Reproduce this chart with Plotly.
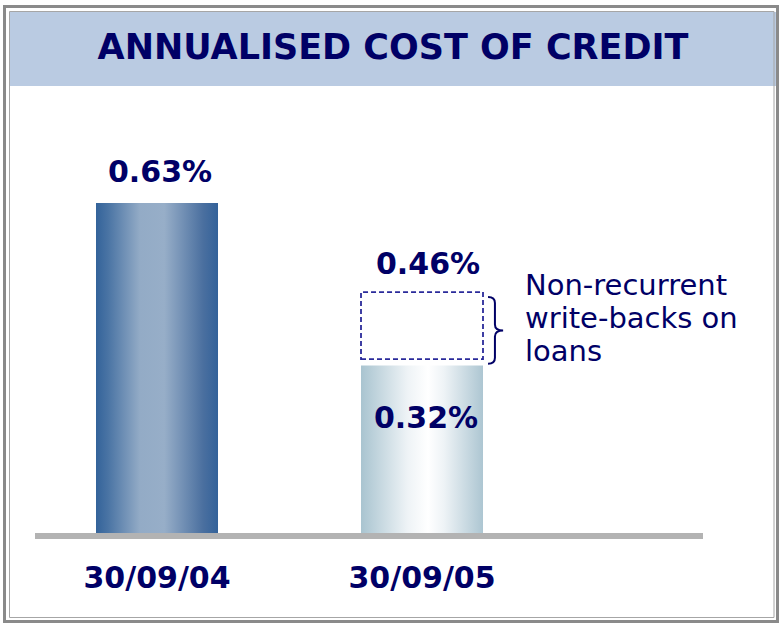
import plotly.graph_objects as go

# ---- data ----
categories = ["30/09/04", "30/09/05"]
cost_values = [0.63, 0.32]            # solid bars (%)
reported_values = [None, 0.46]         # dashed box top (%) incl. non-recurrent write-backs
value_labels = ["0.63%", "0.32%"]
reported_label = "0.46%"
note_lines = ["Non-recurrent", "write-backs on", "loans"]
title_text = "ANNUALISED COST OF CREDIT"

# ---- layout geometry ----
W, H = 780, 624
L, R, T, B = 35, 77, 100, 91
PW, PH = W - L - R, H - T - B
XMIN, XMAX = -0.4604, 2.0604
YMAX = 0.8267
BAR_W = 0.4604
NAVY = "#000066"

def px_x(px):
    return (px - L) / PW

def px_y(py):
    return (H - B - py) / PH

grad1 = [[0, "#33639a"], [0.1, "#4a74a4"], [0.36, "#93abc6"], [0.56, "#97aec8"],
         [0.88, "#4a6f9f"], [1, "#33629a"]]
grad2 = [[0, "#a9c4d0"], [0.38, "#eef3f6"], [0.55, "#ffffff"], [0.68, "#eef3f6"],
         [1, "#adc6d2"]]
grads = [grad1, grad2]

fig = go.Figure()
for i, v in enumerate(cost_values):
    x0, x1 = i - BAR_W / 2, i + BAR_W / 2
    fig.add_trace(go.Scatter(
        x=[x0, x1, x1, x0, x0], y=[0, 0, v, v, 0],
        mode="lines", fill="toself", line=dict(width=0, color="rgba(0,0,0,0)"),
        fillgradient=dict(type="horizontal", colorscale=grads[i]),
        hoverinfo="skip", showlegend=False))

shapes = []
annotations = []
VAL_FONT = dict(family="DejaVu Sans", size=30, color=NAVY, weight="bold")

# value labels
annotations.append(dict(x=0, y=cost_values[0], xref="x", yref="y", text=value_labels[0],
                        showarrow=False, yanchor="middle", yshift=32, xshift=3,
                        font=VAL_FONT))
annotations.append(dict(x=1, y=cost_values[1], xref="x", yref="y", text=value_labels[1],
                        showarrow=False, yanchor="middle", yshift=-52, xshift=4,
                        font=VAL_FONT))

# dashed box for reported value
gap = 0.012
top = reported_values[1]
base = cost_values[1] + gap
shapes.append(dict(type="rect", xref="x", yref="y", x0=1 - BAR_W / 2, x1=1 + BAR_W / 2,
                   y0=base, y1=top, line=dict(color="#2a2a9a", width=1.8, dash="5px,3px"),
                   fillcolor="rgba(0,0,0,0)"))
annotations.append(dict(x=1, y=top, xref="x", yref="y", text=reported_label,
                        showarrow=False, yanchor="middle", yshift=29, xshift=6,
                        font=VAL_FONT))

# brace
xa = 1 + BAR_W / 2 + 0.019
xb = xa + 0.026
xc = xa + 0.057
ytop = top - 0.0095
ybot = cost_values[1] + 0.003
ymid = (ytop + ybot) / 2
e = 0.0115
path = (f"M {xa},{ytop} Q {xb},{ytop} {xb},{ytop - e} L {xb},{ymid + e} "
        f"Q {xb},{ymid} {xc},{ymid} Q {xb},{ymid} {xb},{ymid - e} "
        f"L {xb},{ybot + e} Q {xb},{ybot} {xa},{ybot}")
shapes.append(dict(type="path", xref="x", yref="y", path=path,
                   line=dict(color=NAVY, width=2)))
for k, line_txt in enumerate(note_lines):
    annotations.append(dict(x=xc + 0.075, y=ymid, xref="x", yref="y", text=line_txt,
                            showarrow=False, xanchor="left", yanchor="middle", align="left",
                            yshift=45 - 33 * k,
                            font=dict(family="DejaVu Sans", size=29, color=NAVY)))

# title band
shapes.append(dict(type="rect", xref="paper", yref="paper", x0=px_x(10), x1=px_x(776),
                   y0=px_y(86), y1=px_y(12), fillcolor="#bacbe2", line=dict(width=0),
                   layer="below"))
# frame
shapes.append(dict(type="rect", xref="paper", yref="paper", x0=px_x(4.5), x1=px_x(777.5),
                   y0=px_y(621.5), y1=px_y(6.5), line=dict(color="#8a8a8a", width=3),
                   fillcolor="rgba(0,0,0,0)"))
shapes.append(dict(type="rect", xref="paper", yref="paper", x0=px_x(9.5), x1=px_x(774),
                   y0=px_y(617.5), y1=px_y(11.5), line=dict(color="#a6a6a6", width=1),
                   fillcolor="rgba(0,0,0,0)"))

fig.update_layout(
    width=W, height=H,
    margin=dict(l=L, r=R, t=T, b=B, pad=0),
    paper_bgcolor="white", plot_bgcolor="white",
    title=dict(text=title_text, x=393 / W, y=1 - 47 / H, xanchor="center", yanchor="middle",
               font=dict(family="DejaVu Sans", size=35, color=NAVY, weight="bold")),
    xaxis=dict(range=[XMIN, XMAX], tickvals=[0, 1], ticktext=categories,
               showgrid=False, zeroline=False, showline=True, linecolor="#b3b3b3",
               linewidth=6, ticks="", ticklabelstandoff=13,
               tickfont=dict(family="DejaVu Sans", size=30, color=NAVY, weight="bold"),
               fixedrange=True),
    yaxis=dict(range=[0, YMAX], visible=False, showgrid=False, zeroline=False,
               fixedrange=True),
    shapes=shapes, annotations=annotations,
    showlegend=False,
)

fig.write_html("out.html", config={"displayModeBar": False},
               post_script="document.body.style.margin='0px';")
